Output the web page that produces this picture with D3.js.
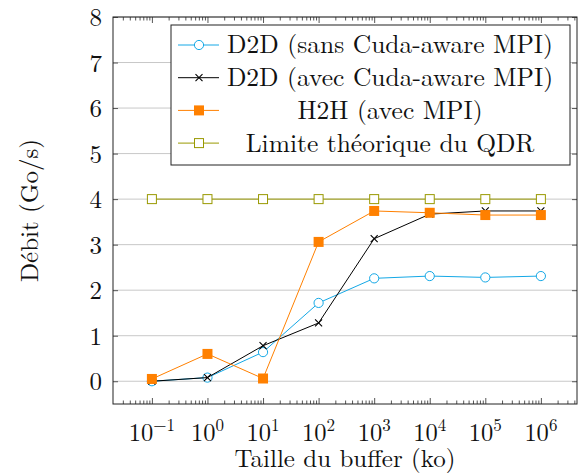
<!DOCTYPE html>
<html>
<head>
<meta charset="utf-8">
<script src="https://cdn.jsdelivr.net/npm/d3@7"></script>
<style>
  body { margin: 0; background: #fff; }
</style>
</head>
<body>
<div id="chart"></div>
<script>
// Data (buffer sizes in ko, throughput in Go/s)
const sizes = [0.1, 1, 10, 100, 1000, 10000, 100000, 1000000];
const d2dSans = [0, 0.08, 0.64, 1.72, 2.26, 2.31, 2.28, 2.31];
const d2dAvec = [0, 0.08, 0.78, 1.28, 3.13, 3.67, 3.74, 3.74];
const h2h = [0.05, 0.60, 0.06, 3.06, 3.74, 3.70, 3.65, 3.65];
const qdr = [4, 4, 4, 4, 4, 4, 4, 4];

const yTicks = [0, 1, 2, 3, 4, 5, 6, 7, 8];
const xExponents = [-1, 0, 1, 2, 3, 4, 5, 6];

const series = [
    { name: "D2D (sans Cuda-aware MPI)", values: d2dSans, color: "#14a8e6", mark: "circle" },
    { name: "D2D (avec Cuda-aware MPI)", values: d2dAvec, color: "#000000", mark: "cross" },
    { name: "H2H (avec MPI)", values: h2h, color: "#ff8000", mark: "square" },
    { name: "Limite théorique du QDR", values: qdr, color: "#999900", mark: "opensquare" }
];

const W = 579, H = 474;
const margin = { top: 17, right: 2, bottom: 70, left: 113 };
const width = W - margin.left - margin.right;
const height = H - margin.top - margin.bottom;
const FONT = "'Latin Modern Roman', 'Liberation Serif', serif";

function addText(sel, size) {
    return sel.append("text")
        .style("font-family", FONT)
        .style("font-size", size + "px")
        .attr("fill", "#111");
}

function drawMark(sel, mark, color) {
    if (mark === "circle") {
        sel.append("circle").attr("r", 4.6)
            .attr("fill", "#fff").attr("stroke", color).attr("stroke-width", 1);
    } else if (mark === "cross") {
        sel.append("path").attr("d", "M-3.5,-3.5L3.5,3.5M-3.5,3.5L3.5,-3.5")
            .attr("stroke", color).attr("stroke-width", 1.1);
    } else if (mark === "square") {
        sel.append("rect").attr("x", -5).attr("y", -5).attr("width", 10).attr("height", 10)
            .attr("fill", color);
    } else {
        sel.append("rect").attr("x", -4.5).attr("y", -4.5).attr("width", 9).attr("height", 9)
            .attr("fill", "#fff").attr("stroke", color).attr("stroke-width", 1);
    }
}

function createChart() {
    const svg = d3.select("#chart").append("svg")
        .attr("width", W).attr("height", H);

    const g = svg.append("g")
        .attr("transform", `translate(${margin.left},${margin.top})`);

    const x = d3.scaleLog()
        .domain([Math.pow(10, -1.7), Math.pow(10, 6.65)])
        .range([0, width]);
    const y = d3.scaleLinear()
        .domain([-0.5, 8])
        .range([height, 0]);

    // grid
    g.append("g").selectAll("line")
        .data(yTicks).enter().append("line")
        .attr("x1", 0).attr("x2", width)
        .attr("y1", d => y(d)).attr("y2", d => y(d))
        .attr("stroke", "#c8c8c8").attr("stroke-width", 1);

    // x ticks (major + minor), inward at bottom and top
    const minor = [];
    for (let e = -2; e <= 6; e++) {
        for (let k = 2; k <= 9; k++) {
            const v = k * Math.pow(10, e);
            if (x(v) > 0.5 && x(v) < width - 0.5) minor.push(v);
        }
    }
    const majors = xExponents.map(e => Math.pow(10, e));

    const xAxisB = d3.axisBottom(x).tickValues(majors).tickSize(-6).tickFormat("");
    const xAxisBm = d3.axisBottom(x).tickValues(minor).tickSize(-3.5).tickFormat("");
    const xAxisT = d3.axisTop(x).tickValues(majors).tickSize(-6).tickFormat("");
    const xAxisTm = d3.axisTop(x).tickValues(minor).tickSize(-3.5).tickFormat("");
    [[xAxisB, height], [xAxisBm, height], [xAxisT, 0], [xAxisTm, 0]].forEach(([ax, ty]) => {
        const a = g.append("g").attr("transform", `translate(0,${ty})`).call(ax);
        a.select(".domain").remove();
        a.selectAll("line").attr("stroke", "#555");
    });

    const yAxisL = d3.axisLeft(y).tickValues(yTicks).tickSize(-5).tickFormat("");
    const yAxisR = d3.axisRight(y).tickValues(yTicks).tickSize(-5).tickFormat("");
    [[yAxisL, 0], [yAxisR, width]].forEach(([ax, tx]) => {
        const a = g.append("g").attr("transform", `translate(${tx},0)`).call(ax);
        a.select(".domain").remove();
        a.selectAll("line").attr("stroke", "#555");
    });

    // tick labels
    const yl = g.append("g");
    yTicks.forEach(d => {
        addText(yl, 25)
            .attr("x", -11).attr("y", y(d))
            .attr("dy", "0.36em")
            .attr("text-anchor", "end")
            .text(d);
    });

    const xlg = g.append("g");
    xExponents.forEach(d => {
        const t = addText(xlg, 24.5)
            .attr("x", x(Math.pow(10, d)))
            .attr("y", height + 37)
            .attr("text-anchor", "middle");
        t.append("tspan").text("10");
        t.append("tspan").attr("dy", -10).style("font-size", "17px")
            .text(d < 0 ? "\u2212" + Math.abs(d) : d);
    });

    // frame
    g.append("rect")
        .attr("width", width).attr("height", height)
        .attr("fill", "none").attr("stroke", "#222").attr("stroke-width", 1);

    // series
    const line = d3.line()
        .x((d, i) => x(sizes[i]))
        .y(d => y(d));

    series.forEach(s => {
        g.append("path")
            .datum(s.values)
            .attr("fill", "none")
            .attr("stroke", s.color)
            .attr("stroke-width", 1)
            .attr("d", line);
        const marks = g.append("g").selectAll("g")
            .data(s.values).enter().append("g")
            .attr("transform", (d, i) => `translate(${x(sizes[i])},${y(d)})`);
        marks.each(function() { drawMark(d3.select(this), s.mark, s.color); });
    });

    // legend
    const lg = svg.append("g").attr("transform", "translate(171,25)");
    lg.append("rect").attr("width", 399).attr("height", 140)
        .attr("fill", "#fff").attr("stroke", "#222").attr("stroke-width", 1);
    series.forEach((s, i) => {
        const row = lg.append("g").attr("transform", `translate(0,${20 + i * 32.7})`);
        row.append("line").attr("x1", 7).attr("x2", 48)
            .attr("stroke", s.color).attr("stroke-width", 1);
        const m = row.append("g").attr("transform", "translate(28,0)");
        drawMark(m, s.mark, s.color);
        addText(row, 25.5).attr("x", 219).attr("dy", "0.33em")
            .attr("text-anchor", "middle")
            .text(s.name);
    });

    // axis titles
    addText(svg, 25)
        .attr("x", margin.left + width / 2).attr("y", 467)
        .attr("text-anchor", "middle")
        .text("Taille du buffer (ko)");
    addText(svg, 25)
        .attr("transform", `translate(38,${margin.top + height / 2}) rotate(-90)`)
        .attr("text-anchor", "middle")
        .text("Débit (Go/s)");
}

document.addEventListener("DOMContentLoaded", createChart);
</script>
</body>
</html>
